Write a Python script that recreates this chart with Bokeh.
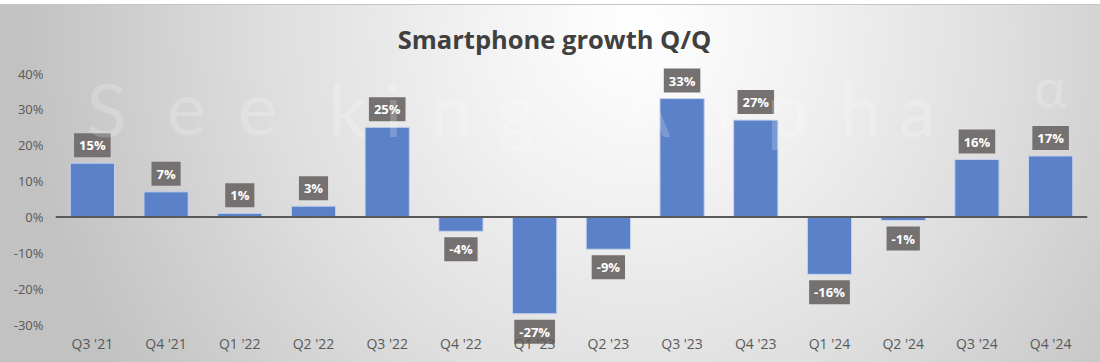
from bokeh.plotting import figure
from bokeh.models import FactorRange, Range1d, Span, FixedTicker, PrintfTickFormatter, ColumnDataSource
from bokeh.core.properties import value
from bokeh.embed import file_html
from bokeh.resources import INLINE

# ---- data ----
quarters = ["Q3 '21", "Q4 '21", "Q1 '22", "Q2 '22", "Q3 '22", "Q4 '22", "Q1 '23",
            "Q2 '23", "Q3 '23", "Q4 '23", "Q1 '24", "Q2 '24", "Q3 '24", "Q4 '24"]
growth = [15, 7, 1, 3, 25, -4, -27, -9, 33, 27, -16, -1, 16, 17]
y_ticks = [-30, -20, -10, 0, 10, 20, 30, 40]
title_text = "Smartphone growth Q/Q"
watermark_letters = ["S", "e", "e", "k", "i", "n", "g", "A", "l", "p", "h", "a"]

# ---- layout helpers (reference pixel space -> plot units) ----
W, H = 1100, 362
FL, FR = 55, 1087          # frame left / right in pixels
PX_PER_PCT = 251 / 70.0
PX_PER_CAT = (FR - FL) / len(quarters)
y_top = 40 + 73 / PX_PER_PCT
y_bot = -30 - (H - 324) / PX_PER_PCT


def fx(px):
    return (px - FL) / PX_PER_CAT


def fy(py):
    return 40 - (py - 73) / PX_PER_PCT


p = figure(width=W, height=H, output_backend="svg", toolbar_location=None,
           x_range=FactorRange(*quarters, range_padding=0),
           y_range=Range1d(y_bot, y_top),
           min_border_left=FL, min_border_right=W - FR, min_border_top=0, min_border_bottom=0)

p.border_fill_color = None
p.background_fill_color = None
p.outline_line_color = None
p.styles = {"background": (
    "linear-gradient(to bottom, #ffffff 0px, #ffffff 4px, #c6c6c6 4px, #c6c6c6 5px, transparent 5px), "
    "radial-gradient(ellipse 56% 175% at 58% 8%, #ffffff 0%, #f1f1f1 28%, #dedede 60%, #c2c2c2 100%)")}

p.xaxis.visible = False
p.xgrid.visible = False
p.ygrid.visible = False

yax = p.yaxis[0]
yax.ticker = FixedTicker(ticks=y_ticks)
yax.formatter = PrintfTickFormatter(format="%d%%")
yax.axis_line_color = None
yax.major_tick_line_color = None
yax.minor_tick_line_color = None
yax.major_tick_out = 0
yax.major_tick_in = 0
yax.minor_tick_out = 0
yax.major_label_standoff = 12
yax.major_label_text_font = "Open Sans"
yax.major_label_text_font_size = "13px"
yax.major_label_text_color = "#595959"

src = ColumnDataSource(dict(q=quarters, v=growth))
p.vbar(x="q", top="v", bottom=0, width=0.6, source=src,
       fill_color="#5b81c9", line_color="#c5d3ee", line_width=1)

p.add_layout(Span(location=0, dimension="width", line_color="#595959", line_width=2))

pos = ColumnDataSource(dict(q=[q for q, g in zip(quarters, growth) if g >= 0],
                            v=[g for g in growth if g >= 0],
                            t=[f"{g}%" for g in growth if g >= 0]))
neg = ColumnDataSource(dict(q=[q for q, g in zip(quarters, growth) if g < 0],
                            v=[g for g in growth if g < 0],
                            t=[f"{g}%" for g in growth if g < 0]))
lab_kw = dict(text="t", text_align="center", text_font=value("Open Sans"),
              text_font_style="bold", text_font_size="13px", text_color="white",
              background_fill_color="#767171",
              padding=dict(left=5, right=5, top=3, bottom=3))
p.text(x="q", y="v", source=pos, text_baseline="bottom", y_offset=-6, **lab_kw)
p.text(x="q", y="v", source=neg, text_baseline="top", y_offset=6, **lab_kw)

# category labels
p.text(x=quarters, y=[fy(343)] * len(quarters), text=quarters,
       text_align="center", text_baseline="middle", text_font=value("Open Sans"),
       text_font_size="14px", text_color="#595959")

# title
p.text(x=[fx(554)], y=[fy(38)], text=[title_text],
       text_align="center", text_baseline="middle", text_font=value("Open Sans"),
       text_font_style="bold", text_font_size="25.5px", text_color="#404040")

# faint watermark
wm_x = [106, 186, 257, 347, 393, 451, 516, 645, 723, 787, 860, 917]
p.text(x=[fx(v) for v in wm_x], y=[fy(108)] * len(wm_x),
       text=watermark_letters, text_align="center", text_baseline="alphabetic",
       text_font=value("Lato"), text_font_size="74px",
       text_color="white", text_alpha=0.2)
p.text(x=[fx(1050)], y=[fy(86)], text=["α"],
       text_align="center", text_baseline="alphabetic",
       text_font=value("Lato"), text_font_size="56px",
       text_color="white", text_alpha=0.2)

open("out.html", "w").write(file_html(p, INLINE))
